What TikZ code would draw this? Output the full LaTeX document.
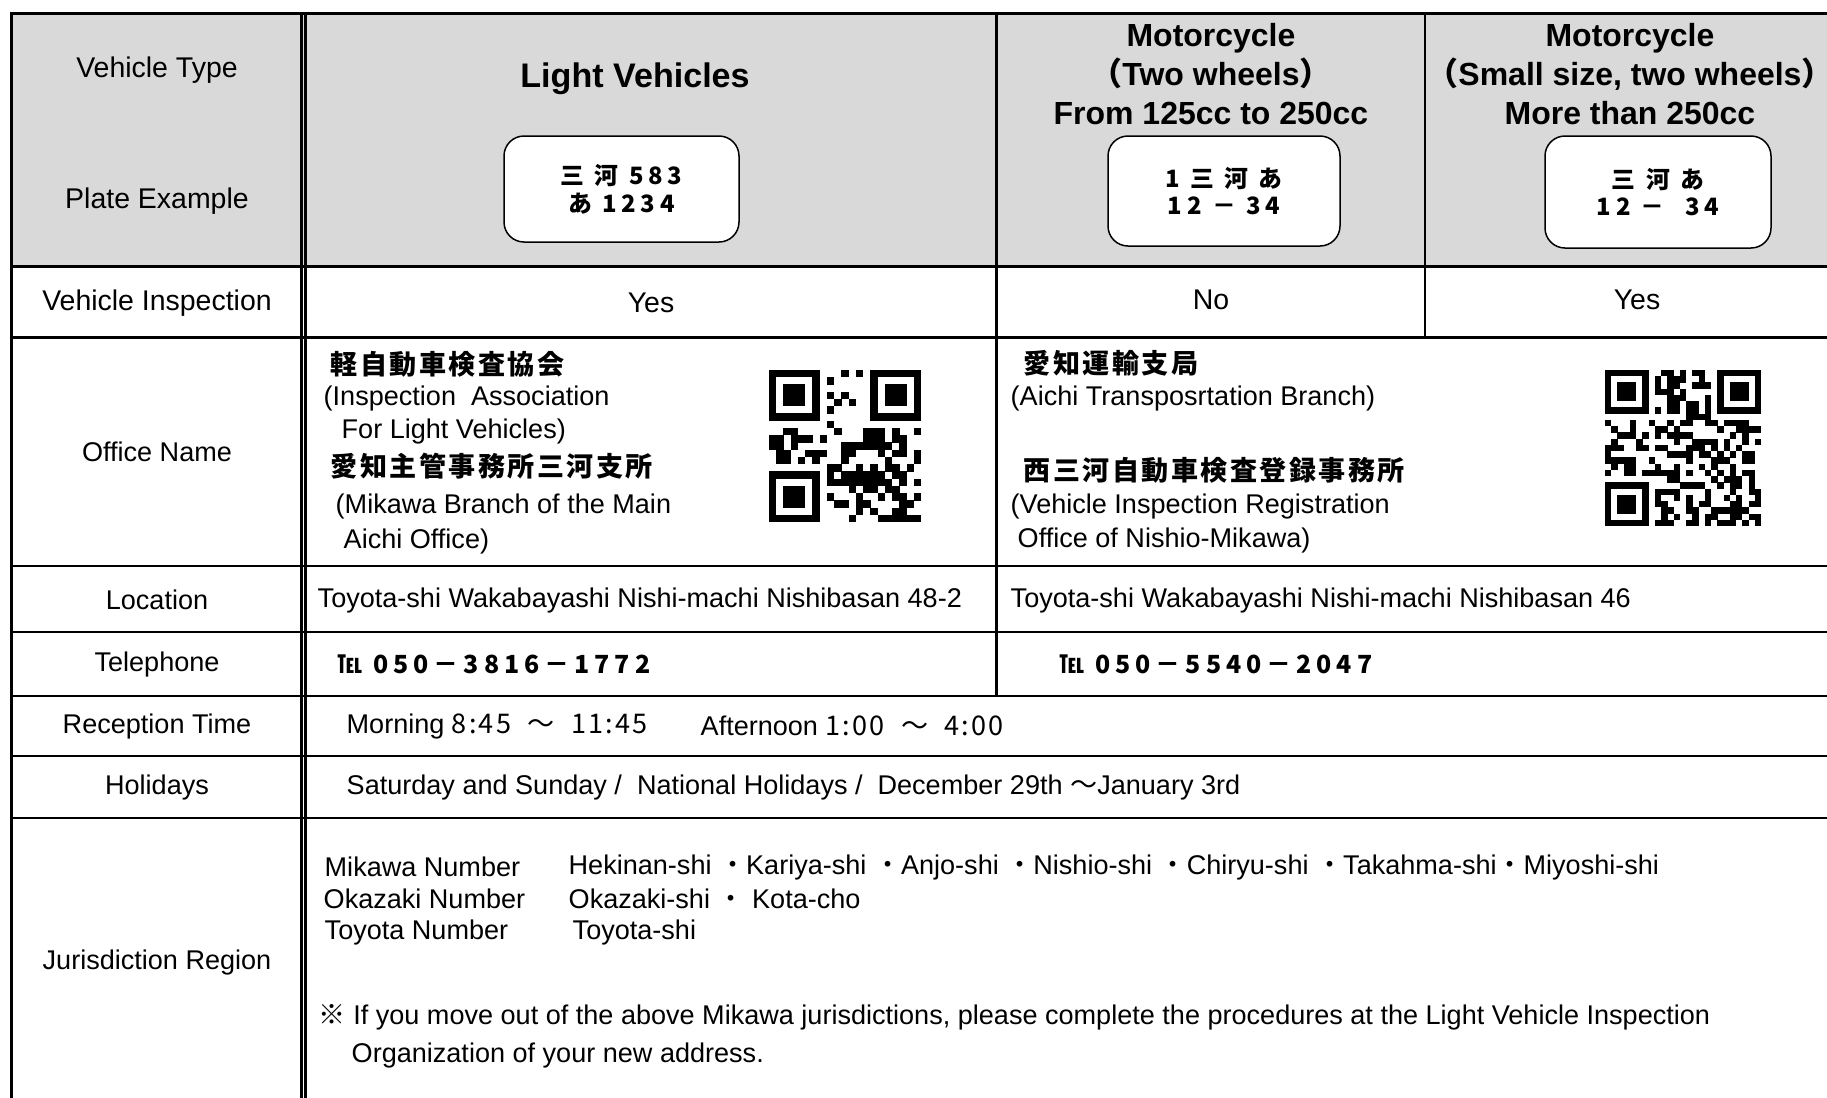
\documentclass[tikz,border=0pt]{standalone}
\usepackage{fontspec}
\setmainfont{Liberation Sans}
\newfontfamily\jp{Noto Sans CJK JP}
\newfontfamily\jpwide[WordSpace=2,LetterSpace=8]{Noto Sans CJK JP}
\newfontfamily\jpsp[LetterSpace=20]{Noto Sans CJK JP}
\newfontfamily\jpname[LetterSpace=9]{Noto Sans CJK JP}
\definecolor{headgray}{RGB}{217,217,217}
% full-width brackets, trimmed to their ink side
\newcommand{\wopen}{\makebox[0.5em][r]{\jp （}}
\newcommand{\wclose}{\makebox[0.5em][l]{\jp ）}}
\tikzset{
	rule/.style = {line width=0.28mm},
	rowlabel/.style = {inner sep=0pt, font=\fontsize{7.7pt}{9pt}\selectfont},
	biglabel/.style = {inner sep=0pt, font=\fontsize{8.1pt}{10pt}\selectfont},
	cell/.style = {inner sep=0pt, anchor=west, font=\fontsize{7.7pt}{9pt}\selectfont},
	head/.style = {inner sep=0pt, align=center, font=\bfseries\fontsize{9.1pt}{11.1pt}\selectfont},
	plate/.style = {
			draw, fill=white,
			line width=0.15mm,
			rounded corners=2mm,
			align=center, inner sep=0pt,
			font=\jpsp\bfseries\fontsize{6.8pt}{7.9pt}\selectfont,
		},
	jname/.style = {inner sep=0pt, anchor=west, font=\jpname\bfseries\fontsize{7.7pt}{9pt}\selectfont},
	tel/.style = {inner sep=0pt, anchor=west, font=\jpsp\bfseries\fontsize{7.1pt}{8pt}\selectfont},
}
% QR code block: x, y (top left), module size, modules, seed
\newcommand{\qrpattern}[5]{%
	\begin{scope}[shift={(#1,#2)}, x=#3, y=-#3]
		\pgfmathsetseed{#5}
		\pgfmathtruncatemacro\qrlast{#4-1}
		\pgfmathtruncatemacro\qrfar{#4-7}
		\foreach \i in {0,...,\qrlast}
			\foreach \j in {0,...,\qrlast}
				{ \pgfmathtruncatemacro\qron{((\i<8 && \j<8) || (\i>#4-9 && \j<8) || (\i<8 && \j>#4-9)) ? 0 : (rnd<0.48 ? 1 : 0)}
				  \ifnum\qron=1 \fill (\i,\j) rectangle ++(1.03,1.03);\fi }
		\foreach \a/\b in {0/0,\qrfar/0,0/\qrfar}
			{ \fill (\a,\b) rectangle ++(7,7);
			  \fill[white] (\a+1,\b+1) rectangle ++(5,5);
			  \fill (\a+2,\b+2) rectangle ++(3,3); }
	\end{scope}}

\begin{document}
\begin{tikzpicture}[x=0.1mm, y=-0.1mm]
	\useasboundingbox (0,0) rectangle (1827,1098);
	\clip (0,0) rectangle (1827,1098);

	% Header shading
	\fill[headgray] (11.5,13.5) rectangle (1840,266.5);

	% Table rules
	\draw[rule] (11.5,1110) -- (11.5,13.5) -- (1840,13.5);
	\foreach \y in {266.5,337.5,566,632,696,756,818}
		{ \draw[rule] (11.5,\y) -- (1840,\y); }
	\draw[rule] (301.3,13.5) -- (301.3,1110);
	\draw[rule] (305.3,13.5) -- (305.3,1110);
	\draw[rule] (996.5,13.5) -- (996.5,696);
	\draw[rule] (1425,13.5) -- (1425,337.5);

	% Row labels
	\node[biglabel] (lblType) at (157,70) {Vehicle Type};
	\node[biglabel] (lblPlate) at (157,201) {Plate Example};
	\node[biglabel] (lblInsp) at (157,303) {Vehicle Inspection};
	\node[rowlabel] (lblOffice) at (157,452) {Office Name};
	\node[rowlabel] (lblLoc) at (157,600) {Location};
	\node[rowlabel] (lblTel) at (157,664) {Telephone};
	\node[rowlabel] (lblTime) at (157,726) {Reception Time};
	\node[rowlabel] (lblHol) at (157,787) {Holidays};
	\node[rowlabel] (lblJur) at (157,962) {Jurisdiction Region};

	% Vehicle types
	\node[head, font=\bfseries\fontsize{9.7pt}{12pt}\selectfont] (hdLight) at (635,79) {Light Vehicles};
	\node[head] (hdMid) at (1211,74) {Motorcycle\\\wopen Two wheels\wclose\\From 125cc to 250cc};
	\node[head] (hdBig) at (1630,74) {Motorcycle\\\wopen Small size, two wheels\wclose\\More than 250cc};

	% Plate examples
	\node[plate, minimum width=23.5mm, minimum height=10.6mm] (plLight) at (621.5,189) {三 河 583\\あ 1234};
	\node[plate, minimum width=23.2mm, minimum height=11mm] (plMid) at (1224,191) {1 三 河 あ\\12 － 34};
	\node[plate, minimum width=22.6mm, minimum height=11.2mm] (plBig) at (1658,192) {三 河 あ\\12 －\ \ 34};

	% Vehicle inspection
	\node[biglabel] (insLight) at (651,303) {Yes};
	\node[biglabel] (insMid) at (1211,300) {No};
	\node[biglabel] (insBig) at (1637,300) {Yes};

	% Office names
	\node[jname] (offLightJp) at (330,364) {軽自動車検査協会};
	\node[cell] (offLightEnA) at (323,398) {(Inspection\ \ Association};
	\node[cell] (offLightEnB) at (341,431) {For Light Vehicles)};
	\node[jname] (offBranchJp) at (330,466) {愛知主管事務所三河支所};
	\node[cell] (offBranchEnA) at (335,506) {(Mikawa Branch of the Main};
	\node[cell] (offBranchEnB) at (343,541) {Aichi Office)};
	\qrpattern{769}{370}{0.724mm}{21}{17}

	\node[jname] (offAichiJp) at (1023,363) {愛知運輸支局};
	\node[cell] (offAichiEn) at (1010,398) {(Aichi Transposrtation Branch)};
	\node[jname] (offNishiJp) at (1023,470) {西三河自動車検査登録事務所};
	\node[cell] (offNishiEnA) at (1010,506) {(Vehicle Inspection Registration};
	\node[cell] (offNishiEnB) at (1017,540) {Office of Nishio-Mikawa)};
	\qrpattern{1605}{370}{0.624mm}{25}{5}

	% Location and telephone
	\node[cell] (locLight) at (317,600) {Toyota-shi Wakabayashi Nishi-machi Nishibasan 48-2};
	\node[cell] (locMoto) at (1010,600) {Toyota-shi Wakabayashi Nishi-machi Nishibasan 46};
	\node[tel] (telLight) at (337,664) {℡ 050－3816－1772};
	\node[tel] (telMoto) at (1059,664) {℡ 050－5540－2047};

	% Reception time and holidays
	\node[cell] (timeAm) at (346,726) {Morning {\jpwide 8:45 ～ 11:45}};
	\node[cell] (timePm) at (700,726) {Afternoon {\jpwide 1:00 ～ 4:00}};
	\node[cell] (holText) at (346,787) {Saturday and Sunday /\ \ National Holidays /\ \ December 29th {\jp ～}January 3rd};

	% Jurisdiction
	\node[cell] (jurMikawa) at (324,867) {Mikawa Number};
	\node[cell] (jurMikawaList) at (568,867) {Hekinan-shi {\jp ・}Kariya-shi {\jp ・}Anjo-shi {\jp ・}Nishio-shi {\jp ・}Chiryu-shi {\jp ・}Takahma-shi{\jp ・}Miyoshi-shi};
	\node[cell] (jurOkazaki) at (323,899) {Okazaki Number};
	\node[cell] (jurOkazakiList) at (568,899) {Okazaki-shi {\jp ・} Kota-cho};
	\node[cell] (jurToyota) at (324,932) {Toyota Number};
	\node[cell] (jurToyotaList) at (572,932) {Toyota-shi};
	\node[cell] (noteA) at (318,1017) {{\jp ※} If you move out of the above Mikawa jurisdictions, please complete the procedures at the Light Vehicle Inspection};
	\node[cell] (noteB) at (351,1055) {Organization of your new address.};
\end{tikzpicture}
\end{document}
